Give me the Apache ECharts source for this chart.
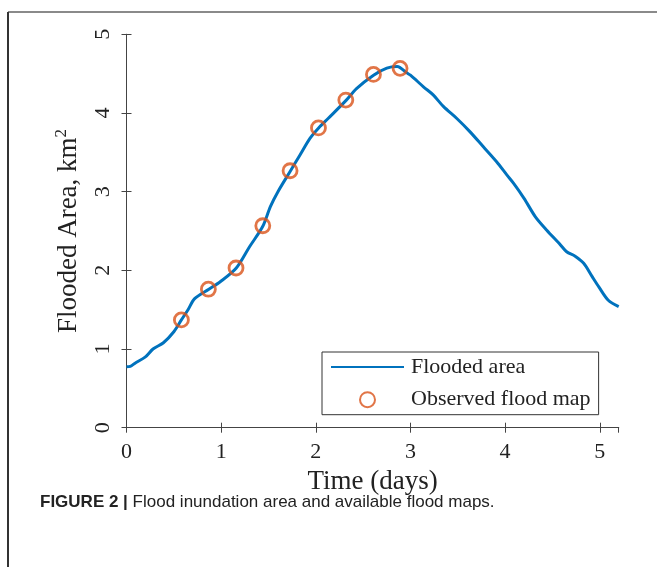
<!DOCTYPE html>
<html>
<head>
<meta charset="utf-8">
<script src="https://cdn.jsdelivr.net/npm/echarts@6/dist/echarts.min.js"></script>
<style>html,body{margin:0;padding:0;background:#fff;}#c{width:657px;height:567px;}</style>
</head>
<body>
<div id="c"></div>
<script>
// Simulated flooded area (days, km^2)
const simTime = [0, 0.04, 0.09, 0.2, 0.28, 0.39, 0.5, 0.58, 0.65, 0.72, 0.87, 0.99, 1.16, 1.3, 1.44, 1.52, 1.6, 1.73, 1.83, 1.94, 2.03, 2.13, 2.32, 2.43, 2.61, 2.75, 2.86, 2.96, 3.0, 3.14, 3.24, 3.35, 3.49, 3.63, 3.77, 3.91, 4.02, 4.09, 4.2, 4.32, 4.44, 4.57, 4.65, 4.74, 4.83, 4.92, 4.99, 5.09, 5.2];
const simArea = [0.775, 0.78, 0.82, 0.90, 1.0, 1.08, 1.22, 1.37, 1.50, 1.64, 1.76, 1.855, 2.03, 2.30, 2.56, 2.81, 3.0, 3.26, 3.46, 3.68, 3.81, 3.93, 4.16, 4.31, 4.48, 4.57, 4.59, 4.51, 4.48, 4.33, 4.23, 4.08, 3.93, 3.76, 3.57, 3.38, 3.21, 3.105, 2.915, 2.68, 2.51, 2.343, 2.236, 2.18, 2.09, 1.92, 1.79, 1.62, 1.54];
// Observed flood maps
const obsTime = [0.58, 0.865, 1.157, 1.44, 1.728, 2.028, 2.317, 2.609, 2.89];
const obsArea = [1.37, 1.76, 2.03, 2.567, 3.266, 3.81, 4.164, 4.49, 4.567];
const xTicks = [0, 1, 2, 3, 4, 5];
const yTicks = [0, 1, 2, 3, 4, 5];

const serif = '"Liberation Serif", "Times New Roman", serif';
const axisColor = '#444';

const chart = echarts.init(document.getElementById('c'), null, {renderer: 'canvas'});
const baseX = {
  type: 'value', min: 0, max: 5.2, interval: 1,
  axisLine: {show: true, lineStyle: {color: axisColor, width: 1}},
  axisTick: {show: true, inside: true, length: 5, lineStyle: {color: axisColor}},
  splitLine: {show: false}
};
const baseY = {
  type: 'value', min: 0, max: 5, interval: 1,
  axisLine: {show: true, lineStyle: {color: axisColor, width: 1}},
  axisTick: {show: true, inside: true, length: 5, lineStyle: {color: axisColor}},
  splitLine: {show: false}
};
const option = {
  animation: false,
  backgroundColor: '#fff',
  grid: {left: 126.5, right: 38.3, top: 34.3, bottom: 139.3, containLabel: false},
  xAxis: [
    Object.assign({}, baseX, {
      position: 'bottom',
      name: 'Time (days)', nameLocation: 'middle', nameGap: 38,
      nameTextStyle: {fontFamily: serif, fontSize: 27, color: '#222'},
      axisLabel: {show: true, fontFamily: serif, fontSize: 22, color: '#222', margin: 14, showMaxLabel: false,
        formatter: v => xTicks.includes(v) ? String(v) : ''}
    }),
    Object.assign({}, baseX, {position: 'top', axisLabel: {show: false}})
  ],
  yAxis: [
    Object.assign({}, baseY, {
      position: 'left',
      name: 'Flooded Area, km{sup|2}', nameLocation: 'middle', nameGap: 42, nameRotate: 90,
      nameTextStyle: {fontFamily: serif, fontSize: 27, color: '#222',
        rich: {sup: {fontFamily: serif, fontSize: 17, color: '#222', verticalAlign: 'top', padding: [0, 0, 14, 0]}}},
      axisLabel: {show: true, rotate: 90, fontFamily: serif, fontSize: 22, color: '#222', margin: 12,
        formatter: v => yTicks.includes(v) ? String(v) : ''}
    }),
    Object.assign({}, baseY, {position: 'right', axisLabel: {show: false}})
  ],
  legend: {
    show: true, orient: 'vertical', left: 322, top: 352,
    padding: [4, 8, 4, 8], itemGap: 10.7, itemWidth: 73, itemHeight: 15,
    borderColor: '#333', borderWidth: 1, backgroundColor: '#fff',
    textStyle: {fontFamily: serif, fontSize: 22, lineHeight: 20, color: '#222', padding: [0, 0, 0, 2]},
    data: [
      {name: 'Flooded area', itemStyle: {opacity: 0}},
      {name: 'Observed flood map'}
    ]
  },
  graphic: [
    {type: 'line', shape: {x1: 8, y1: 12, x2: 657, y2: 12}, style: {stroke: '#8a8a8a', lineWidth: 2}},
    {type: 'line', shape: {x1: 8, y1: 12, x2: 8, y2: 567}, style: {stroke: '#333', lineWidth: 2}},
    {type: 'text', left: 40, top: 494,
      style: {text: '{b|FIGURE 2 |} Flood inundation area and available flood maps.',
        fontFamily: '"Liberation Sans", Arial, sans-serif', fontSize: 17, fill: '#222',
        rich: {b: {fontFamily: '"Liberation Sans", Arial, sans-serif', fontSize: 17, fontWeight: 'bold', fill: '#222'}}}}
  ],
  series: [
    {
      name: 'Flooded area', type: 'line', xAxisIndex: 0, yAxisIndex: 0,
      data: simTime.map((t, i) => [t, simArea[i]]),
      showSymbol: false, symbol: 'none', smooth: 0.3,
      lineStyle: {color: '#0072BD', width: 3}, itemStyle: {color: '#0072BD'}, z: 2
    },
    {
      name: 'Observed flood map', type: 'scatter', xAxisIndex: 0, yAxisIndex: 0,
      data: obsTime.map((t, i) => [t, obsArea[i]]),
      symbol: 'circle', symbolSize: 14,
      itemStyle: {color: 'rgba(255,255,255,0)', borderColor: '#D95319', borderWidth: 2.8}, z: 3
    }
  ]
};
chart.setOption(option);
</script>
</body>
</html>
